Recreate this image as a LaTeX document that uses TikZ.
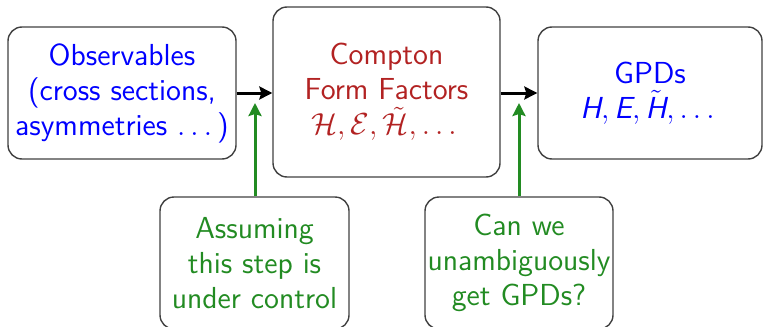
\documentclass[tikz,border=0pt]{standalone}
\usepackage{fix-cm}
\usepackage{amsmath}
\usetikzlibrary{arrows.meta}
\definecolor{cffred}{RGB}{178,34,34}
\definecolor{boxgreen}{RGB}{34,139,34}
\newcommand{\sfit}[1]{\text{\sffamily\itshape #1}}
\begin{document}
\begin{tikzpicture}[x=0.5pt,y=-0.5pt,
  box/.style={draw=black!75,line width=0.7pt,rounded corners=7pt,align=center,
    inner sep=0pt,font=\fontsize{15.2}{17.5}\selectfont\sffamily},
  flow/.style={draw=black,line width=1.5pt,-{Stealth[length=6.5pt,width=6.5pt,inset=1pt]}},
  gflow/.style={draw=boxgreen,line width=1.5pt,-{Stealth[length=6.5pt,width=6.5pt,inset=1pt]}}]
\useasboundingbox (0,0) rectangle (763,326);
\node[box,minimum width=114pt,minimum height=66pt,text=blue] (obs) at (122,93)
  {Observables\\(cross sections,\\asymmetries $\dots$)};
\node[box,minimum width=113.5pt,minimum height=85pt,text=cffred] (cff) at (386.5,92)
  {Compton\\Form Factors\\$\mathcal{H},\mathcal{E},\tilde{\mathcal{H}},\dots$};
\node[box,minimum width=112pt,minimum height=66pt,text=blue] (gpd) at (650,93)
  {GPDs\\$\sfit{H},\sfit{E},\tilde{\sfit{H}},\dots$};
\node[box,minimum width=94.5pt,minimum height=66pt,text=boxgreen] (ass) at (254.5,263)
  {Assuming\\this step is\\under control};
\node[box,minimum width=94pt,minimum height=66pt,text=boxgreen] (can) at (519,263)
  {Can we\\unambiguously\\get GPDs?};
\coordinate (t1) at (255,103);
\coordinate (t2) at (519,103);
\draw[flow] (obs.east) -- (obs.east -| cff.west);
\draw[flow] (cff.east |- gpd.west) -- (gpd.west);
\draw[gflow] (ass.north -| t1) -- (t1);
\draw[gflow] (can.north -| t2) -- (t2);
\end{tikzpicture}
\end{document}
